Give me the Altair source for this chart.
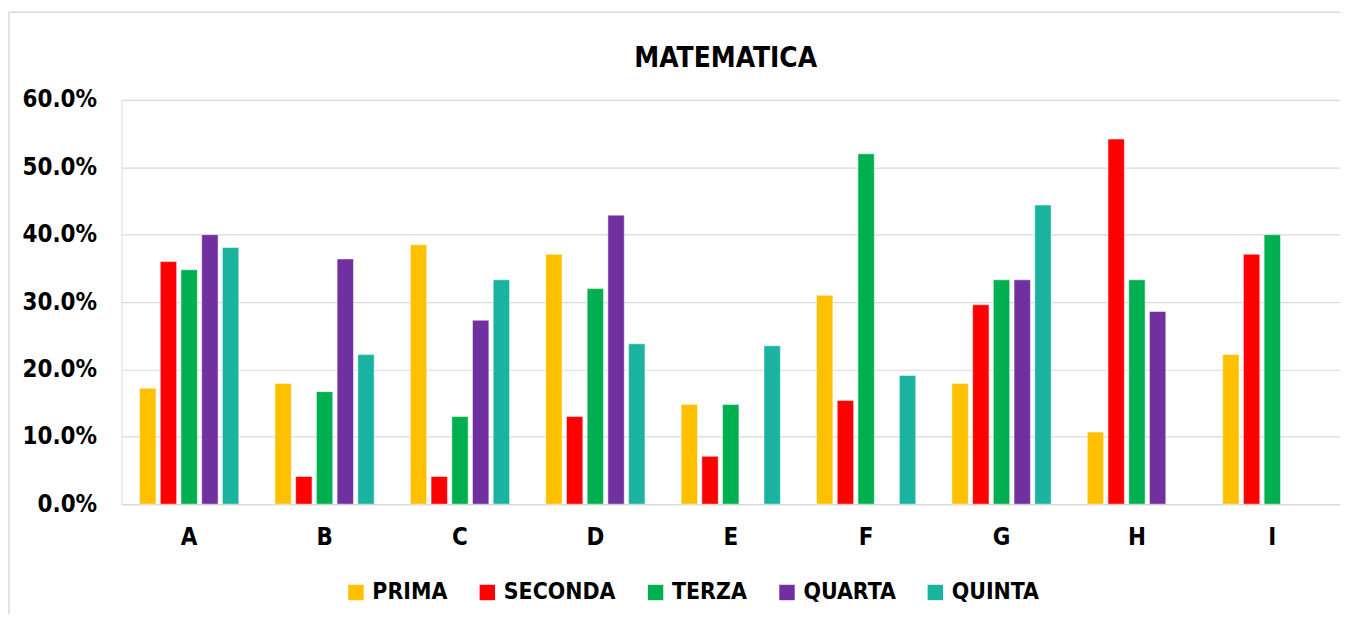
import altair as alt
import pandas as pd

categories = ["A", "B", "C", "D", "E", "F", "G", "H", "I"]
series = ["PRIMA", "SECONDA", "TERZA", "QUARTA", "QUINTA"]
colors = ["#FFC000", "#FF0000", "#00B050", "#7030A0", "#1AB39F"]

prima = [0.172, 0.179, 0.385, 0.371, 0.148, 0.310, 0.179, 0.107, 0.222]
seconda = [0.360, 0.041, 0.041, 0.130, 0.071, 0.154, 0.296, 0.542, 0.371]
terza = [0.348, 0.167, 0.130, 0.320, 0.148, 0.520, 0.333, 0.333, 0.400]
quarta = [0.400, 0.364, 0.273, 0.429, None, None, 0.333, 0.286, None]
quinta = [0.381, 0.222, 0.333, 0.238, 0.235, 0.191, 0.444, None, None]

y_ticks = [0.0, 0.1, 0.2, 0.3, 0.4, 0.5, 0.6]

rows = []
for name, vals in zip(series, [prima, seconda, terza, quarta, quinta]):
    for cat, v in zip(categories, vals):
        if v is not None:
            rows.append({"classe": cat, "serie": name, "valore": v})
df = pd.DataFrame(rows)

FONT = "DejaVu Sans Condensed"

bars = alt.Chart(df).mark_bar(stroke="white", strokeWidth=0.5).encode(
    x=alt.X("classe:N", sort=categories, title=None,
            scale=alt.Scale(paddingInner=0.235, paddingOuter=0.1175),
            axis=alt.Axis(labelAngle=0, labelFontSize=24, labelFontWeight="bold",
                          labelColor="#000000", labelPadding=22, ticks=False,
                          domainColor="#d9d9d9", domainWidth=1.5, labelFont=FONT)),
    xOffset=alt.XOffset("serie:N", sort=series,
                        scale=alt.Scale(domain=series, paddingInner=0.21, paddingOuter=0.105)),
    y=alt.Y("valore:Q", title=None,
            scale=alt.Scale(domain=[0, 0.6], nice=False),
            axis=alt.Axis(values=y_ticks, format=".1%", labelFontSize=24,
                          labelFontWeight="bold", labelColor="#000000",
                          labelPadding=25, ticks=False, domain=False,
                          gridColor="#d9d9d9", gridWidth=1.2, labelFont=FONT)),
    color=alt.Color("serie:N", sort=series,
                    scale=alt.Scale(domain=series, range=colors),
                    legend=alt.Legend(title=None, orient="none", direction="horizontal",
                                      columns=5, legendX=224, legendY=483,
                                      symbolType="square", symbolSize=240,
                                      symbolStrokeWidth=0, labelFontSize=23,
                                      labelFontWeight="bold", labelColor="#000000",
                                      labelOffset=5, columnPadding=28, padding=0,
                                      labelFont=FONT)),
)

border = alt.Chart(pd.DataFrame({"k": [0]})).mark_rule(color="#d9d9d9", strokeWidth=1.5).encode(
    x=alt.value(-113), x2=alt.value(1230), y=alt.value(-88)
)
border_left = alt.Chart(pd.DataFrame({"k": [0]})).mark_rule(color="#d9d9d9", strokeWidth=1.5).encode(
    x=alt.value(-113), y=alt.value(-88), y2=alt.value(520)
)

chart = alt.layer(bars, border, border_left).properties(
    width=1224, height=406,
    autosize=alt.AutoSizeParams(type="none"),
    padding={"left": 114, "top": 91, "right": 0, "bottom": 109},
    title=alt.TitleParams("MATEMATICA", fontSize=28, font=FONT, fontWeight="bold",
                          color="#000000", anchor="middle", offset=0, dy=62, dx=-5),
).configure_view(stroke=None).configure(font=FONT, background="white")

chart.save("out.html", embed_options={"renderer": "svg", "actions": False})
